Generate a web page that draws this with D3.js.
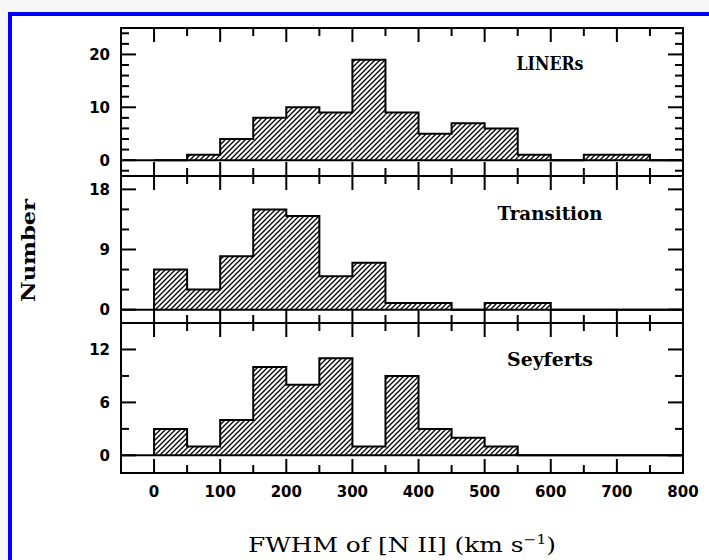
<!DOCTYPE html>
<html>
<head>
<meta charset="utf-8">
<script src="https://cdn.jsdelivr.net/npm/d3@7"></script>
<style>
  html, body { margin: 0; padding: 0; background: #f7f7f7; }
  svg { display: block; }
</style>
</head>
<body>
<svg id="chart" width="709" height="560"></svg>
<script>
// FWHM bins (lower edges, km/s), each 50 km/s wide
const binStarts = [0, 50, 100, 150, 200, 250, 300, 350, 400, 450, 500, 550, 600, 650, 700, 750];
const binWidth = 50;

// Number of objects per bin
const linersCounts     = [0, 1, 4, 8, 10, 9, 19, 9, 5, 7, 6, 1, 0, 1, 1, 0];
const transitionCounts = [6, 3, 8, 15, 14, 5, 7, 1, 1, 0, 1, 1, 0, 0, 0, 0];
const seyfertsCounts   = [3, 1, 4, 10, 8, 11, 1, 9, 3, 2, 1, 0, 0, 0, 0, 0];

// Axis tick labels
const xTickValues = [0, 100, 200, 300, 400, 500, 600, 700, 800];
const linersTicks = [0, 10, 20];
const transitionTicks = [0, 9, 18];
const seyfertsTicks = [0, 6, 12];

const panelNames = ["LINERs", "Transition", "Seyferts"];

const svg = d3.select("#chart");

// Page frame
svg.append("rect")
  .attr("x", 10).attr("y", 14)
  .attr("width", 760).attr("height", 600)
  .attr("fill", "#ffffff")
  .attr("stroke", "#0000ff")
  .attr("stroke-width", 4);

// Hatch pattern for histogram fill
const defs = svg.append("defs");
const hatch = defs.append("pattern")
  .attr("id", "hatch")
  .attr("patternUnits", "userSpaceOnUse")
  .attr("width", 5).attr("height", 5);
hatch.append("path")
  .attr("d", "M-1,1 L1,-1 M0,5 L5,0 M4,6 L6,4")
  .attr("stroke", "#000")
  .attr("stroke-width", 1.3)
  .attr("fill", "none");

const left = 121, right = 683;
const bounds = [28, 176, 323, 473];

const x = d3.scaleLinear().domain([-50, 800]).range([left, right]);

const panels = [
  { name: panelNames[0], counts: linersCounts, ticks: linersTicks, domain: [-3, 25], minor: 2, label: { y: 70, len: 67 } },
  { name: panelNames[1], counts: transitionCounts, ticks: transitionTicks, domain: [-2, 20], minor: 3, label: { y: 220, len: 105 } },
  { name: panelNames[2], counts: seyfertsCounts, ticks: seyfertsTicks, domain: [-2, 15], minor: 3, label: { y: 366, len: 86 } }
];

const xMajor = d3.range(0, 801, 100);
const xMinor = d3.range(50, 800, 100);

panels.forEach((p, i) => {
  const top = bounds[i], bottom = bounds[i + 1];
  const y = d3.scaleLinear().domain(p.domain).range([bottom, top]);
  const g = svg.append("g");

  const bins = binStarts.map((s, k) => ({ x0: s, x1: s + binWidth, n: p.counts[k] }));

  // hatched bars
  g.selectAll("rect.bar")
    .data(bins.filter(d => d.n > 0))
    .join("rect")
    .attr("class", "bar")
    .attr("x", d => x(d.x0))
    .attr("y", d => y(d.n))
    .attr("width", d => x(d.x1) - x(d.x0))
    .attr("height", d => y(0) - y(d.n))
    .attr("fill", "url(#hatch)");

  // step outline
  const pts = [[binStarts[0], 0]];
  bins.forEach(d => { pts.push([d.x0, d.n]); pts.push([d.x1, d.n]); });
  pts.push([bins[bins.length - 1].x1, 0]);
  g.append("path")
    .attr("d", d3.line().x(d => x(d[0])).y(d => y(d[1]))(pts))
    .attr("fill", "none")
    .attr("stroke", "#000")
    .attr("stroke-width", 2)
    .attr("stroke-linejoin", "miter");

  // zero line
  g.append("line")
    .attr("x1", left).attr("x2", right)
    .attr("y1", y(0)).attr("y2", y(0))
    .attr("stroke", "#000").attr("stroke-width", 2);

  // ticks on all four sides, pointing inward
  const tk = g.append("g").attr("stroke", "#000").attr("stroke-width", 2);
  xMajor.forEach(v => {
    tk.append("line").attr("x1", x(v)).attr("x2", x(v)).attr("y1", top).attr("y2", top + 14);
    tk.append("line").attr("x1", x(v)).attr("x2", x(v)).attr("y1", bottom).attr("y2", bottom - 14);
  });
  xMinor.forEach(v => {
    tk.append("line").attr("x1", x(v)).attr("x2", x(v)).attr("y1", top).attr("y2", top + 8);
    tk.append("line").attr("x1", x(v)).attr("x2", x(v)).attr("y1", bottom).attr("y2", bottom - 8);
  });
  const yMinorVals = d3.range(Math.ceil(p.domain[0] / p.minor) * p.minor, p.domain[1], p.minor)
    .filter(v => v > p.domain[0] && v < p.domain[1] && !p.ticks.includes(v));
  p.ticks.forEach(v => {
    tk.append("line").attr("x1", left).attr("x2", left + 15).attr("y1", y(v)).attr("y2", y(v));
    tk.append("line").attr("x1", right).attr("x2", right - 15).attr("y1", y(v)).attr("y2", y(v));
  });
  yMinorVals.forEach(v => {
    tk.append("line").attr("x1", left).attr("x2", left + 8).attr("y1", y(v)).attr("y2", y(v));
    tk.append("line").attr("x1", right).attr("x2", right - 8).attr("y1", y(v)).attr("y2", y(v));
  });

  // y tick labels
  g.selectAll("text.ytl")
    .data(p.ticks)
    .join("text")
    .attr("class", "ytl")
    .attr("x", left - 11)
    .attr("y", v => y(v) + 5.5)
    .attr("text-anchor", "end")
    .attr("font-family", "DejaVu Sans")
    .attr("font-weight", "bold")
    .attr("font-size", 15)
    .text(v => v);

  // panel label
  g.append("text")
    .attr("x", 550).attr("y", p.label.y)
    .attr("text-anchor", "middle")
    .attr("font-family", "DejaVu Serif")
    .attr("font-weight", "bold")
    .attr("font-size", 18)
    .attr("textLength", p.label.len)
    .attr("lengthAdjust", "spacingAndGlyphs")
    .text(p.name);

  // frame
  g.append("rect")
    .attr("x", left).attr("y", top)
    .attr("width", right - left).attr("height", bottom - top)
    .attr("fill", "none").attr("stroke", "#000").attr("stroke-width", 2);
});

// x tick labels
svg.selectAll("text.xtl")
  .data(xTickValues)
  .join("text")
  .attr("class", "xtl")
  .attr("x", v => x(v))
  .attr("y", 497)
  .attr("text-anchor", "middle")
  .attr("font-family", "DejaVu Sans")
  .attr("font-weight", "bold")
  .attr("font-size", 15)
  .text(v => v);

// x axis title
const xt = svg.append("text")
  .attr("x", (left + right) / 2)
  .attr("y", 552)
  .attr("text-anchor", "middle")
  .attr("font-family", "DejaVu Serif")
  .attr("font-size", 21)
  .attr("textLength", 308)
  .attr("lengthAdjust", "spacingAndGlyphs");
xt.append("tspan").text("FWHM of [N II] (km s");
xt.append("tspan").attr("dy", -8).attr("font-size", 13).text("\u22121");
xt.append("tspan").attr("dy", 8).text(")");

// y axis title
svg.append("text")
  .attr("transform", `translate(35,${(bounds[0] + bounds[3]) / 2}) rotate(-90)`)
  .attr("text-anchor", "middle")
  .attr("font-family", "DejaVu Serif")
  .attr("font-weight", "bold")
  .attr("font-size", 19)
  .attr("textLength", 103)
  .attr("lengthAdjust", "spacingAndGlyphs")
  .text("Number");
</script>
</body>
</html>
